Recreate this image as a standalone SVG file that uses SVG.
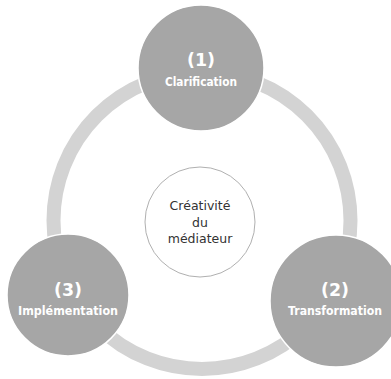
<svg xmlns="http://www.w3.org/2000/svg" width="391" height="379" viewBox="0 0 391 379">
<style>
.node{fill:#a6a6a6;stroke:#ffffff;stroke-width:1.5}
.num{font-family:"DejaVu Sans",Verdana,sans-serif;font-weight:bold;font-size:17px;fill:#ffffff;text-anchor:middle}
.lbl{font-family:"DejaVu Sans",Verdana,sans-serif;font-weight:bold;font-size:12px;fill:#ffffff;text-anchor:middle}
.ctr{font-family:"DejaVu Sans",Verdana,sans-serif;font-size:12.5px;fill:#333333;text-anchor:middle}
</style>
<rect width="391" height="379" fill="#ffffff"/>
<g id="connectors">
<circle cx="202" cy="220.5" r="148.5" fill="none" stroke="#d3d3d3" stroke-width="14"/>
</g>
<g id="center">
<circle cx="200" cy="222" r="55" fill="#ffffff" stroke="#b0b0b0" stroke-width="1"/>
<text class="ctr" x="200" y="210">Créativité</text>
<text class="ctr" x="200" y="227">du</text>
<text class="ctr" x="200" y="243">médiateur</text>
</g>
<g id="node1">
<circle class="node" cx="201" cy="68" r="63"/>
<text class="num" x="201" y="66" textLength="28" lengthAdjust="spacingAndGlyphs">(1)</text>
<text class="lbl" x="201" y="86" textLength="72" lengthAdjust="spacingAndGlyphs">Clarification</text>
</g>
<g id="node2">
<circle class="node" cx="336" cy="301" r="66"/>
<text class="num" x="335" y="296" textLength="28" lengthAdjust="spacingAndGlyphs">(2)</text>
<text class="lbl" x="335" y="315" textLength="94" lengthAdjust="spacingAndGlyphs">Transformation</text>
</g>
<g id="node3">
<circle class="node" cx="68" cy="295" r="61"/>
<text class="num" x="68" y="296" textLength="28" lengthAdjust="spacingAndGlyphs">(3)</text>
<text class="lbl" x="68" y="315" textLength="100" lengthAdjust="spacingAndGlyphs">Implémentation</text>
</g>
</svg>
